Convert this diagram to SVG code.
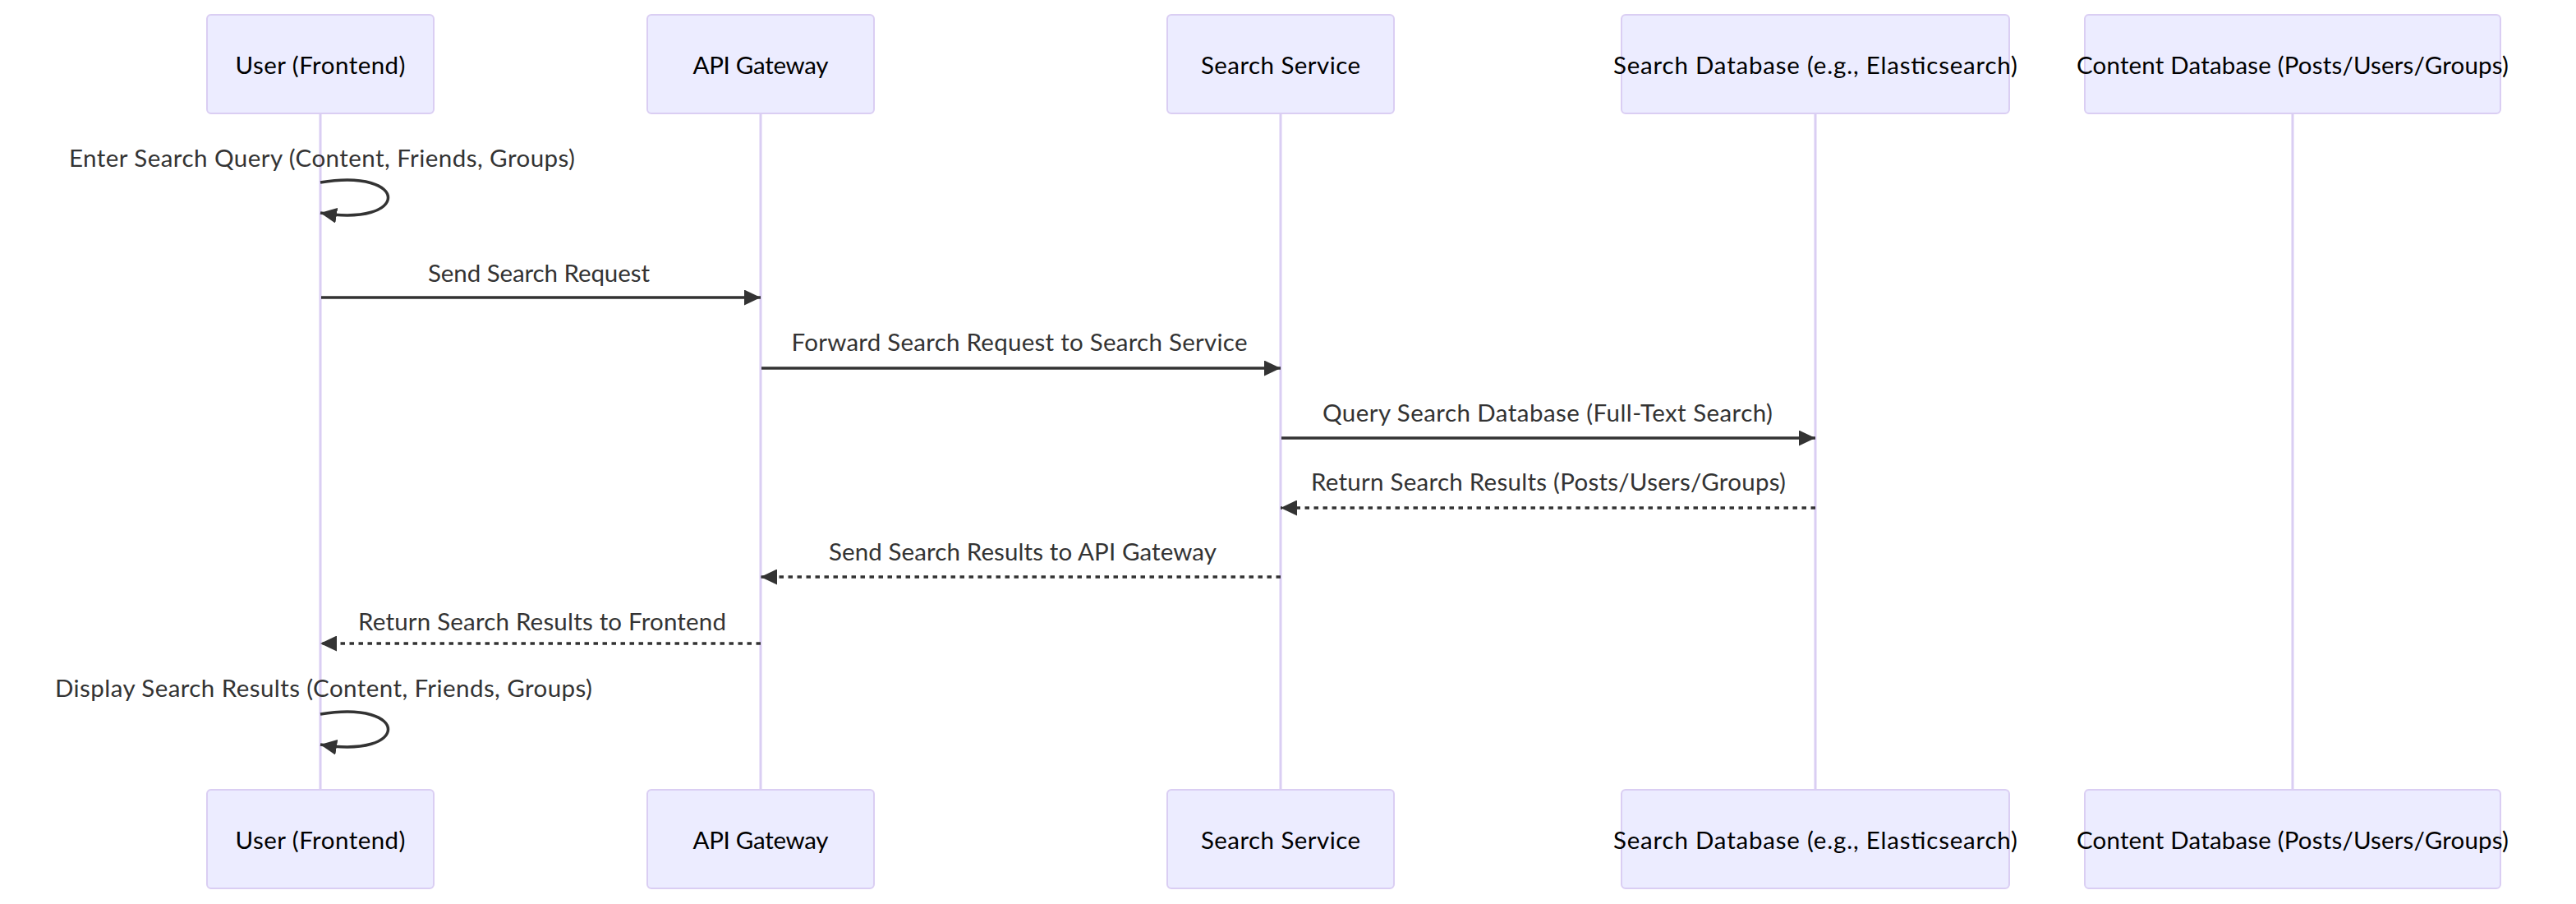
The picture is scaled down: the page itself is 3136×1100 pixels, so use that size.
<svg xmlns="http://www.w3.org/2000/svg" width="3136" height="1100" viewBox="0 0 3136 1100">
<style>
.bg{fill:#ffffff}
.actor{fill:#ECECFF;stroke:#DACEF3;stroke-width:2}
.alabel{font-family:Lato,"Liberation Sans",sans-serif;font-size:29.5px;fill:#000;text-anchor:middle;dominant-baseline:central}
.life{stroke:#DACEF3;stroke-width:3;fill:none}
.msg{font-family:Lato,"Liberation Sans",sans-serif;font-size:29.5px;fill:#333;text-anchor:middle}
.solid{stroke:#333;stroke-width:3.5;fill:none}
.dotted{stroke:#333;stroke-width:3.5;fill:none;stroke-dasharray:5.5,5.5}
</style>
<defs>
<marker id="arrow" markerUnits="userSpaceOnUse" viewBox="0 0 20 19" refX="20" refY="9.5" markerWidth="20" markerHeight="19" orient="auto">
<path d="M0,0 L20,9.5 L0,19 z" fill="#333"/>
</marker>
</defs>
<rect class="bg" x="0" y="0" width="3136" height="1100"/>
<g id="lifelines">
<line class="life" x1="390" y1="138" x2="390" y2="961"/>
<line class="life" x1="926" y1="138" x2="926" y2="961"/>
<line class="life" x1="1559" y1="138" x2="1559" y2="961"/>
<line class="life" x1="2210" y1="138" x2="2210" y2="961"/>
<line class="life" x1="2791" y1="138" x2="2791" y2="961"/>
</g>
<g id="actor-user">
<rect class="actor" x="252" y="18" width="276" height="120" rx="5"/>
<text class="alabel" x="390" y="78" textLength="207">User (Frontend)</text>
<rect class="actor" x="252" y="961" width="276" height="120" rx="5"/>
<text class="alabel" x="390" y="1021" textLength="207">User (Frontend)</text>
</g>
<g id="actor-gateway">
<rect class="actor" x="788" y="18" width="276" height="120" rx="5"/>
<text class="alabel" x="926" y="78" textLength="165">API Gateway</text>
<rect class="actor" x="788" y="961" width="276" height="120" rx="5"/>
<text class="alabel" x="926" y="1021" textLength="165">API Gateway</text>
</g>
<g id="actor-search-service">
<rect class="actor" x="1421" y="18" width="276" height="120" rx="5"/>
<text class="alabel" x="1559" y="78" textLength="194">Search Service</text>
<rect class="actor" x="1421" y="961" width="276" height="120" rx="5"/>
<text class="alabel" x="1559" y="1021" textLength="194">Search Service</text>
</g>
<g id="actor-search-db">
<rect class="actor" x="1974" y="18" width="472" height="120" rx="5"/>
<text class="alabel" x="2210" y="78" textLength="492">Search Database (e.g., Elasticsearch)</text>
<rect class="actor" x="1974" y="961" width="472" height="120" rx="5"/>
<text class="alabel" x="2210" y="1021" textLength="492">Search Database (e.g., Elasticsearch)</text>
</g>
<g id="actor-content-db">
<rect class="actor" x="2538" y="18" width="506" height="120" rx="5"/>
<text class="alabel" x="2791" y="78" textLength="526">Content Database (Posts/Users/Groups)</text>
<rect class="actor" x="2538" y="961" width="506" height="120" rx="5"/>
<text class="alabel" x="2791" y="1021" textLength="526">Content Database (Posts/Users/Groups)</text>
</g>
<g id="connectors">
<path class="solid" d="M390,222 C500,204 500,277 390,259" marker-end="url(#arrow)"/>
<line class="solid" x1="391" y1="362" x2="926" y2="362" marker-end="url(#arrow)"/>
<line class="solid" x1="927" y1="448" x2="1559" y2="448" marker-end="url(#arrow)"/>
<line class="solid" x1="1560" y1="533" x2="2210" y2="533" marker-end="url(#arrow)"/>
<line class="dotted" x1="2210" y1="618" x2="1559" y2="618" marker-end="url(#arrow)"/>
<line class="dotted" x1="1559" y1="702" x2="926" y2="702" marker-end="url(#arrow)"/>
<line class="dotted" x1="926" y1="783" x2="390" y2="783" marker-end="url(#arrow)"/>
<path class="solid" d="M390,869 C500,851 500,924 390,906" marker-end="url(#arrow)"/>
</g>
<g id="message-labels">
<text class="msg" x="392" y="203" textLength="616">Enter Search Query (Content, Friends, Groups)</text>
<text class="msg" x="656" y="343" textLength="270">Send Search Request</text>
<text class="msg" x="1241" y="427" textLength="555">Forward Search Request to Search Service</text>
<text class="msg" x="1884" y="513" textLength="548">Query Search Database (Full-Text Search)</text>
<text class="msg" x="1885" y="597" textLength="578">Return Search Results (Posts/Users/Groups)</text>
<text class="msg" x="1245" y="682" textLength="472">Send Search Results to API Gateway</text>
<text class="msg" x="660" y="767" textLength="448">Return Search Results to Frontend</text>
<text class="msg" x="394" y="848" textLength="654">Display Search Results (Content, Friends, Groups)</text>
</g>
</svg>
